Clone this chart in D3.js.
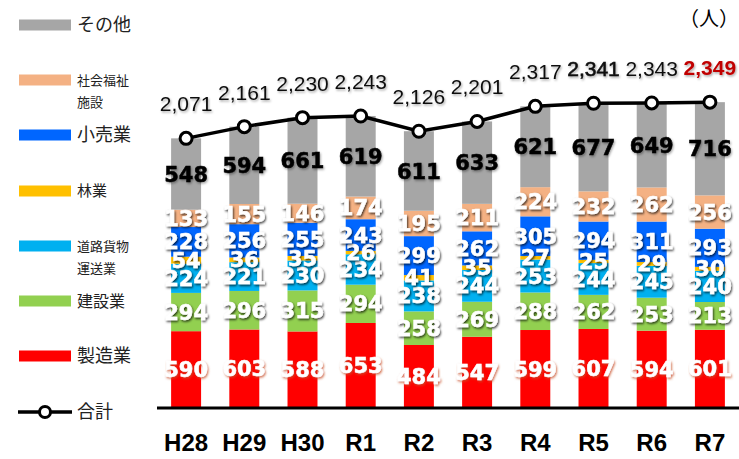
<!DOCTYPE html>
<html>
<head>
<meta charset="utf-8">
<script src="https://cdn.jsdelivr.net/npm/d3@7"></script>
<style>
  body { margin: 0; background: #fff; }
  svg { display: block; }
</style>
</head>
<body>
<script>
// Years on the x axis
var years = ["H28", "H29", "H30", "R1", "R2", "R3", "R4", "R5", "R6", "R7"];

// Series values, bottom to top
var seizo   = [590, 603, 588, 653, 484, 547, 599, 607, 594, 601];   // 製造業
var kensetsu = [294, 296, 315, 294, 258, 269, 288, 262, 253, 213];  // 建設業
var doro    = [224, 221, 230, 234, 238, 244, 253, 244, 245, 240];   // 道路貨物運送業
var ringyo  = [54, 36, 35, 26, 41, 35, 27, 25, 29, 30];             // 林業
var kouri   = [228, 256, 255, 243, 299, 262, 305, 294, 311, 293];   // 小売業
var fukushi = [133, 155, 146, 174, 195, 211, 224, 232, 262, 256];   // 社会福祉施設
var sonota  = [548, 594, 661, 619, 611, 633, 621, 677, 649, 716];   // その他
var totals  = [2071, 2161, 2230, 2243, 2126, 2201, 2317, 2341, 2343, 2349]; // 合計

var seriesKeys = ["seizo", "kensetsu", "doro", "ringyo", "kouri", "fukushi", "sonota"];
var seriesData = [seizo, kensetsu, doro, ringyo, kouri, fukushi, sonota];
var seriesColors = ["#ff0000", "#92d050", "#00b0f0", "#ffc000", "#0066ff", "#f4b183", "#a6a6a6"];

var width = 739,
    height = 459;

var svg = d3.select("body")
    .append("svg")
    .attr("width", width)
    .attr("height", height);

// Shadow filters for the value labels
var defs = svg.append("defs");
function addShadow(id, color, dev) {
    var f = defs.append("filter").attr("id", id)
        .attr("x", "-20%").attr("y", "-20%").attr("width", "140%").attr("height", "140%");
    f.append("feDropShadow")
        .attr("dx", 1).attr("dy", 1.5)
        .attr("stdDeviation", dev)
        .attr("flood-color", color);
}
addShadow("shDark", "rgba(0,0,0,0.75)", 1);
addShadow("shRed", "rgba(200,80,40,0.8)", 0.9);
addShadow("shGray", "rgba(0,0,0,0.35)", 1);

// Build rows for d3.stack
var rows = years.map(function(y, i) {
    var r = { year: y };
    seriesKeys.forEach(function(k, j) { r[k] = seriesData[j][i]; });
    return r;
});
var stacked = d3.stack().keys(seriesKeys)(rows);

// Scales
var x = d3.scaleBand()
    .domain(years)
    .range([157, 739])
    .paddingInner(0.485)
    .paddingOuter(0.2425);

var y = d3.scaleLinear()
    .domain([0, 2500])
    .range([408, 408 - 2500 * 0.1302]);

// Bars
var layers = svg.selectAll(".layer")
    .data(stacked)
    .enter()
    .append("g")
    .attr("class", "layer")
    .attr("fill", function(d, i) { return seriesColors[i]; });

layers.selectAll("rect")
    .data(function(d) { return d; })
    .enter()
    .append("rect")
    .attr("x", function(d) { return x(d.data.year); })
    .attr("width", x.bandwidth())
    .attr("y", function(d) { return y(d[1]); })
    .attr("height", function(d) { return y(d[0]) - y(d[1]); });

// Baseline
svg.append("line")
    .attr("x1", 157).attr("x2", 739)
    .attr("y1", y(0)).attr("y2", y(0))
    .attr("stroke", "#000")
    .attr("stroke-width", 3);

// Segment value labels
stacked.forEach(function(layer, i) {
    var isTop = seriesKeys[i] === "sonota";
    var isRed = seriesKeys[i] === "seizo";
    svg.append("g").selectAll("text")
        .data(layer)
        .enter()
        .append("text")
        .attr("x", function(d) { return x(d.data.year) + x.bandwidth() / 2; })
        .attr("y", function(d) { return (y(d[0]) + y(d[1])) / 2; })
        .attr("dy", "0.36em")
        .attr("text-anchor", "middle")
        .attr("font-family", "'DejaVu Sans', sans-serif")
        .attr("font-weight", "bold")
        .attr("font-size", 21)
        .attr("fill", isTop ? "#000" : "#fff")
        .attr("stroke", isTop ? "#000" : "#fff")
        .attr("stroke-width", 0.5)
        .attr("filter", isTop ? "url(#shGray)" : (isRed ? "url(#shRed)" : "url(#shDark)"))
        .text(function(d) { return d[1] - d[0]; });
});

// Total line
var line = d3.line()
    .x(function(d, i) { return x(years[i]) + x.bandwidth() / 2; })
    .y(function(d) { return y(d); });

svg.append("path")
    .datum(totals)
    .attr("d", line)
    .attr("fill", "none")
    .attr("stroke", "#000")
    .attr("stroke-width", 3.5);

svg.selectAll(".dot")
    .data(totals)
    .enter()
    .append("circle")
    .attr("class", "dot")
    .attr("cx", function(d, i) { return x(years[i]) + x.bandwidth() / 2; })
    .attr("cy", function(d) { return y(d); })
    .attr("r", 6)
    .attr("fill", "#fff")
    .attr("stroke", "#000")
    .attr("stroke-width", 3);

// Total labels (latest year highlighted in red)
var last = totals.length - 1;
svg.selectAll(".total")
    .data(totals)
    .enter()
    .append("text")
    .attr("class", "total")
    .attr("x", function(d, i) { return x(years[i]) + x.bandwidth() / 2; })
    .attr("y", function(d) { return y(d) - 27; })
    .attr("text-anchor", "middle")
    .attr("font-family", "'Liberation Sans', Arial, sans-serif")
    .attr("font-size", 21)
    .attr("font-weight", function(d, i) { return i === last ? "bold" : "normal"; })
    .attr("fill", function(d, i) { return i === last ? "#c00000" : "#111"; })
    .attr("stroke", function(d, i) { return i === 7 ? "#111" : "none"; })
    .attr("stroke-width", 0.6)
    .attr("filter", "url(#shGray)")
    .text(function(d) { return d3.format(",")(d); });

// X axis labels
svg.selectAll(".xlab")
    .data(years)
    .enter()
    .append("text")
    .attr("class", "xlab")
    .attr("x", function(d) { return x(d) + x.bandwidth() / 2; })
    .attr("y", 451)
    .attr("text-anchor", "middle")
    .attr("font-family", "'Liberation Sans', Arial, sans-serif")
    .attr("font-weight", "bold")
    .attr("font-size", 24)
    .attr("fill", "#000")
    .text(function(d) { return d; });

// Unit
svg.append("text")
    .attr("x", 739).attr("y", 26)
    .attr("text-anchor", "end")
    .attr("font-family", "'Noto Sans CJK JP', sans-serif")
    .attr("font-size", 20)
    .text("（人）");

// Legend
var legend = [
    { lines: ["その他"], color: "#a6a6a6", y: 25, size: 18 },
    { lines: ["社会福祉", "施設"], color: "#f4b183", y: 80, size: 13 },
    { lines: ["小売業"], color: "#0066ff", y: 135, size: 18 },
    { lines: ["林業"], color: "#ffc000", y: 191, size: 15 },
    { lines: ["道路貨物", "運送業"], color: "#00b0f0", y: 246, size: 13 },
    { lines: ["建設業"], color: "#92d050", y: 301, size: 16 },
    { lines: ["製造業"], color: "#ff0000", y: 356, size: 18 }
];

var lg = svg.append("g").attr("class", "legend");
legend.forEach(function(item) {
    lg.append("rect")
        .attr("x", 19).attr("y", item.y - 5.5)
        .attr("width", 52).attr("height", 11)
        .attr("fill", item.color);
    item.lines.forEach(function(t, k) {
        lg.append("text")
            .attr("x", 77)
            .attr("y", item.y + k * 22)
            .attr("dy", "0.36em")
            .attr("font-family", "'Noto Sans CJK JP', sans-serif")
            .attr("font-size", item.size)
            .attr("fill", "#222")
            .text(t);
    });
});

// Legend for total line
lg.append("line")
    .attr("x1", 18).attr("x2", 72)
    .attr("y1", 412).attr("y2", 412)
    .attr("stroke", "#000").attr("stroke-width", 3.5);
lg.append("circle")
    .attr("cx", 45).attr("cy", 412).attr("r", 5.5)
    .attr("fill", "#fff").attr("stroke", "#000").attr("stroke-width", 3);
lg.append("text")
    .attr("x", 77).attr("y", 412)
    .attr("dy", "0.36em")
    .attr("font-family", "'Noto Sans CJK JP', sans-serif")
    .attr("font-size", 18)
    .attr("fill", "#222")
    .text("合計");
</script>
</body>
</html>
